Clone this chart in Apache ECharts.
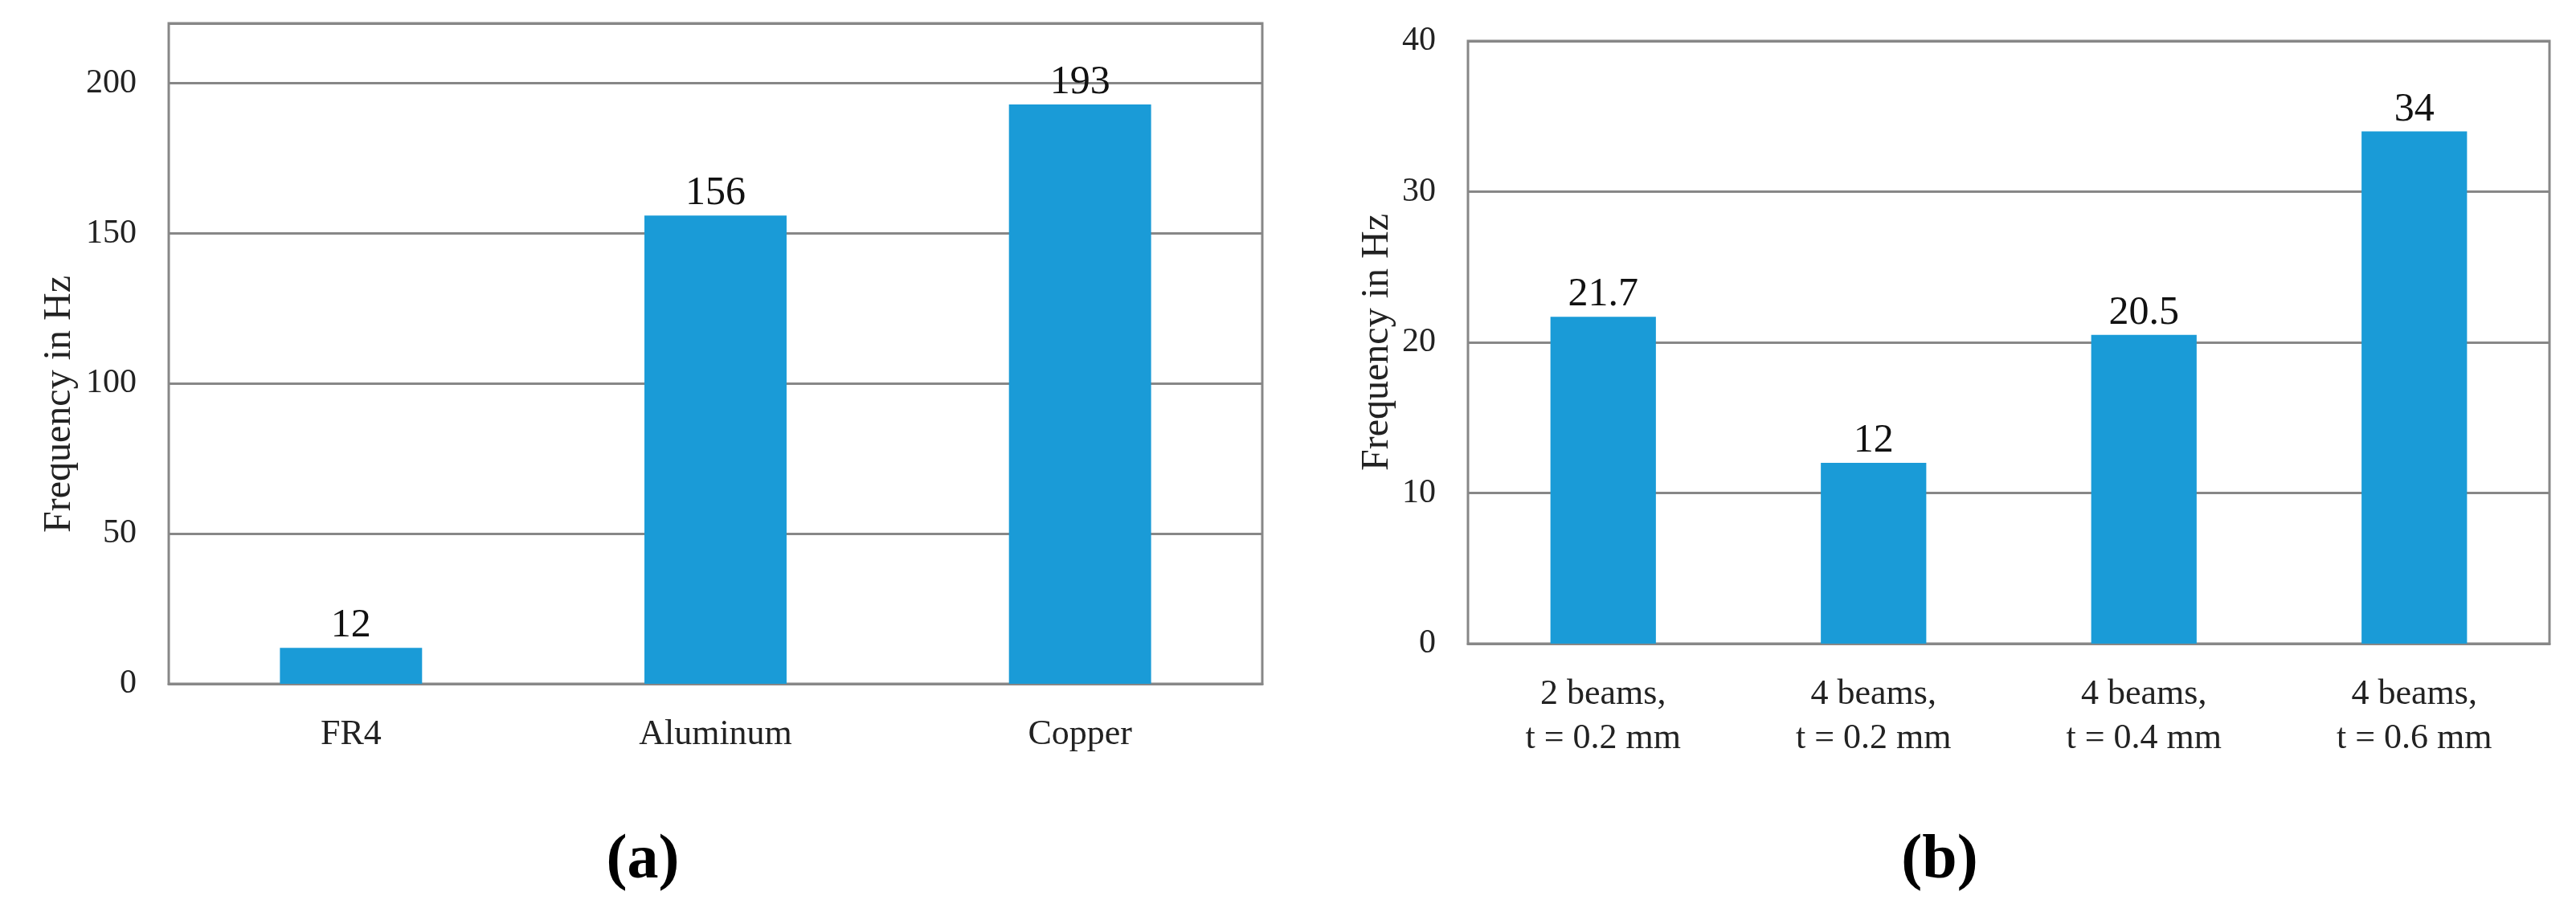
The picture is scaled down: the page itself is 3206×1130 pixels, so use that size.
<!DOCTYPE html>
<html>
<head>
<meta charset="utf-8">
<title>Frequency</title>
<script src="https://cdn.jsdelivr.net/npm/echarts@6/dist/echarts.min.js"></script>
<style>
  html, body { margin: 0; padding: 0; background: #fff; }
  #chart { width: 3206px; height: 1130px; }
</style>
</head>
<body>
<div id="chart"></div>
<script>
// (a) substrate material
var materialNames = ["FR4", "Aluminum", "Copper"];
var materialFreq = [12, 156, 193];
var materialAxisMax = 220;
var materialAxisStep = 50;

// (b) beam variants
var beamNames = ["2 beams,\nt = 0.2 mm", "4 beams,\nt = 0.2 mm", "4 beams,\nt = 0.4 mm", "4 beams,\nt = 0.6 mm"];
var beamFreq = [21.7, 12, 20.5, 34];
var beamAxisMax = 40;
var beamAxisStep = 10;

var yName = "Frequency in Hz";
var panelTags = ["a", "b"];

var font = "Liberation Serif";
var lineGray = "#878787";
var barBlue = "#1a9bd7";
var textColor = "#222";

var chart = echarts.init(document.getElementById("chart"));

function catAxis(idx, names) {
  return {
    type: "category",
    gridIndex: idx,
    data: names,
    axisTick: { show: false },
    axisLine: { lineStyle: { color: lineGray, width: 3 } },
    axisLabel: {
      color: textColor,
      fontFamily: font,
      fontSize: 44,
      lineHeight: 55,
      margin: 36
    }
  };
}

function valAxis(idx, max, step, gap, pad) {
  return {
    type: "value",
    gridIndex: idx,
    min: 0,
    max: max,
    interval: step,
    name: yName,
    nameLocation: "middle",
    nameGap: gap,
    nameTextStyle: {
      color: textColor,
      fontFamily: font,
      fontSize: 48,
      padding: pad
    },
    axisLine: { show: false },
    axisTick: { show: false },
    axisLabel: {
      color: textColor,
      fontFamily: font,
      fontSize: 42,
      margin: 40,
      showMaxLabel: max % step === 0
    },
    splitLine: { lineStyle: { color: lineGray, width: 3 } }
  };
}

function barSeries(idx, data) {
  return {
    type: "bar",
    xAxisIndex: idx,
    yAxisIndex: idx,
    data: data,
    barWidth: "39%",
    itemStyle: { color: barBlue },
    label: {
      show: true,
      position: "top",
      distance: 2,
      color: "#111",
      fontFamily: font,
      fontSize: 50
    }
  };
}

function tag(letter, x) {
  return {
    text: "{p|(}{b|" + letter + "}{p|)}",
    left: x,
    top: 1028,
    textAlign: "center",
    textStyle: {
      rich: {
        p: { fontFamily: font, fontSize: 78, color: "#000" },
        b: { fontFamily: font, fontSize: 78, fontWeight: "bold", color: "#000" }
      }
    }
  };
}

var option = {
  backgroundColor: "#fff",
  animation: false,
  title: [tag(panelTags[0], 795), tag(panelTags[1], 2409)],
  grid: [
    { left: 210, right: 1635, top: 29, bottom: 279, show: true, borderColor: lineGray, borderWidth: 3 },
    { left: 1827, right: 33, top: 51, bottom: 329, show: true, borderColor: lineGray, borderWidth: 3 }
  ],
  xAxis: [catAxis(0, materialNames), catAxis(1, beamNames)],
  yAxis: [
    valAxis(0, materialAxisMax, materialAxisStep, 112, [0, 126, 0, 0]),
    valAxis(1, beamAxisMax, beamAxisStep, 89, 0)
  ],
  series: [barSeries(0, materialFreq), barSeries(1, beamFreq)]
};

chart.setOption(option);
window.addEventListener("resize", function () {
  chart.resize();
});
</script>
</body>
</html>
